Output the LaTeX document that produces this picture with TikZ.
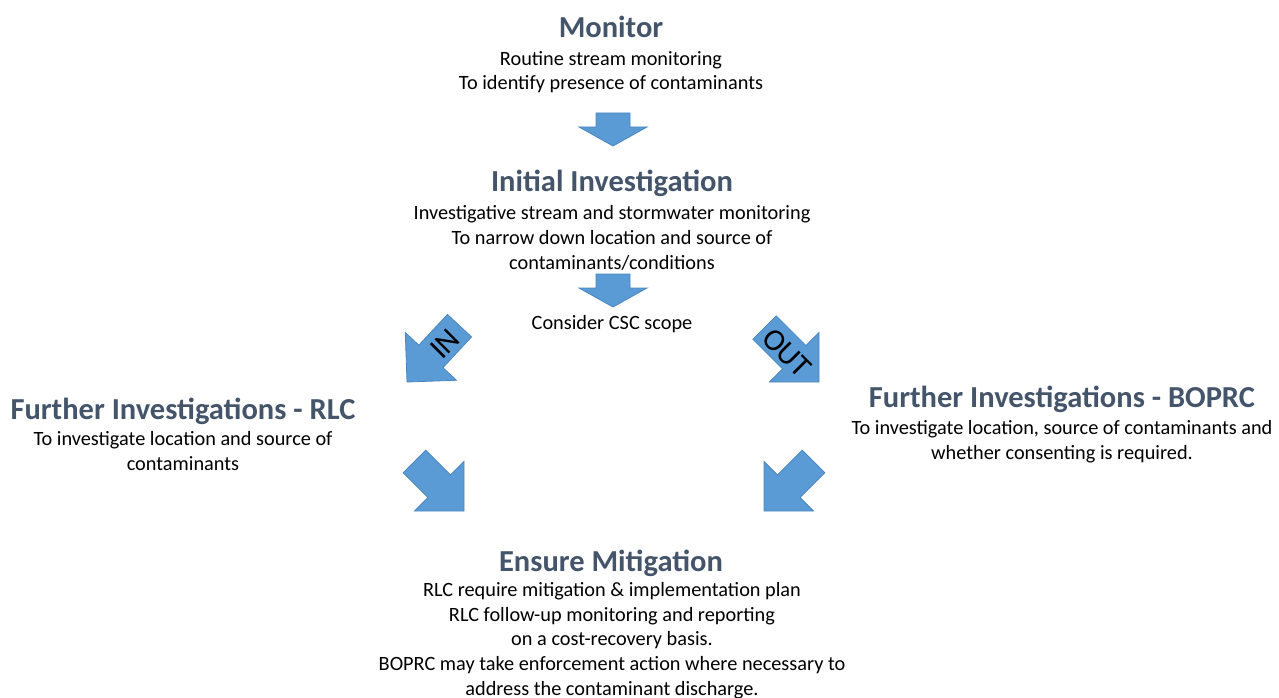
\documentclass[tikz,border=0pt]{standalone}
\usepackage{fontspec}
\setmainfont{Carlito}
\definecolor{headgrey}{HTML}{44546A}
\definecolor{arrowblue}{HTML}{5B9BD5}
\definecolor{arrowedge}{HTML}{4A86C0}
\begin{document}
\begin{tikzpicture}[x=1pt,y=-1pt,
  heading/.style={font=\bfseries\fontsize{30.5}{36}\selectfont, text=headgrey, anchor=base, inner sep=0pt},
  body/.style={font=\fontsize{20.3}{24.6}\selectfont, align=center, anchor=base, inner sep=0pt},
  tag/.style={font=\fontsize{31}{33}\selectfont, inner sep=0pt},
  pics/blockarrow/.style n args={4}{code={
    % tip at the origin, pointing along +x; #1 length, #2 head length,
    % #3 head half-width, #4 shaft half-width
    \path[fill=arrowblue, draw=arrowedge, line width=0.8pt, line join=miter]
      (0,0) -- (-#2,#3) -- (-#2,#4) -- (-#1,#4) -- (-#1,-#4)
      -- (-#2,-#4) -- (-#2,-#3) -- cycle;}}
]
\useasboundingbox (0,0) rectangle (1279,698);

% stage texts (multi-line nodes are placed by the baseline of their last line)
\node[heading] (monitor) at (611,38) {Monitor};
\node[body] (monitorTxt) at (611,90) {Routine stream monitoring\\To identify presence of contaminants};

\node[heading] (initial) at (612,191) {Initial Investigation};
\node[body] (initialTxt) at (612,269) {Investigative stream and stormwater monitoring\\To narrow down location and source of\\contaminants/conditions};

\node[body] (scope) at (612,329) {Consider CSC scope};

\node[heading] (rlc) at (183,419) {Further Investigations - RLC};
\node[body] (rlcTxt) at (183,470) {To investigate location and source of\\contaminants};

\node[heading] (boprc) at (1062,407) {Further Investigations - BOPRC};
\node[body] (boprcTxt) at (1062,459) {To investigate location, source of contaminants and\\whether consenting is required.};

\node[heading] (mitig) at (611,571) {Ensure Mitigation};
\node[body] (mitigTxt) at (612,695) {RLC require mitigation \& implementation plan\\RLC follow-up monitoring and reporting\\on a cost-recovery basis.\\BOPRC may take enforcement action where necessary to\\address the contaminant discharge.};

% block arrows
\pic[rotate=-90] at (613,146) {blockarrow={33}{19}{34}{17}};
\pic[rotate=-90] at (613,307) {blockarrow={33}{19}{34}{17}};
\pic[rotate=-133] at (407,382) {blockarrow={77}{35}{35}{16.5}};
\pic[rotate=-45] at (819,382) {blockarrow={77}{35}{35}{16.5}};
\pic[rotate=-45] at (464,511) {blockarrow={70}{35}{35}{16}};
\pic[rotate=-135] at (764,511) {blockarrow={70}{35}{35}{16}};

% labels written along the branch arrows
\node[tag, rotate=45] (inTag) at (445,344) {IN};
\node[tag, rotate=-45] (outTag) at (787,353) {OUT};
\end{tikzpicture}
\end{document}
